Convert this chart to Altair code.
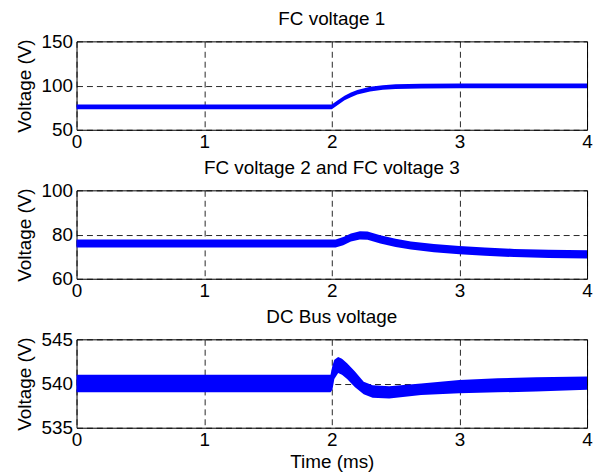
import altair as alt
import pandas as pd

# ---------------- data ----------------
# Panel 1: FC voltage 1 (band = lower / upper envelope of the ripple)
t1 = [0.0, 1.0, 2.0, 2.05, 2.1, 2.15, 2.2, 2.3, 2.4, 2.5, 2.7, 3.0, 3.5, 4.0]
lo1 = [73.3, 73.3, 73.3, 78.4, 83.4, 86.9, 89.9, 93.4, 95.2, 96.2, 96.8, 97.0, 97.0, 97.0]
hi1 = [78.5, 78.5, 78.5, 83.6, 88.6, 92.1, 95.1, 98.6, 100.4, 101.4, 102.0, 102.2, 102.2, 102.2]

# Panel 2: FC voltage 2 and FC voltage 3
t2 = [0.0, 1.0, 2.03, 2.09, 2.15, 2.22, 2.28, 2.38, 2.5, 2.62, 2.8, 3.0, 3.2, 3.43, 3.7, 4.0]
lo2 = [74.1, 74.1, 74.1, 75.2, 76.8, 77.8, 77.7, 76.0, 74.4, 73.2, 72.0, 71.1, 70.4, 69.8, 69.4, 69.2]
hi2 = [77.8, 77.8, 77.8, 78.9, 80.5, 81.5, 81.4, 79.7, 78.1, 76.9, 75.7, 74.8, 74.1, 73.5, 73.1, 72.9]

# Panel 3: DC Bus voltage
t3 = [0.0, 1.0, 1.99, 2.005, 2.02, 2.05, 2.08, 2.12, 2.18, 2.25, 2.32, 2.45, 2.7, 3.0, 3.3, 3.6, 4.0]
lo3 = [539.0, 539.0, 539.0, 539.3, 540.5, 541.2, 541.0, 540.5, 539.6, 538.8, 538.4, 538.3, 538.7, 538.9, 539.0, 539.1, 539.3]
hi3 = [541.0, 541.0, 541.0, 542.0, 542.7, 543.0, 542.8, 542.3, 541.4, 540.2, 539.8, 539.7, 540.0, 540.4, 540.6, 540.7, 540.8]

titles = ["FC voltage 1", "FC voltage 2 and FC voltage 3", "DC Bus voltage"]
y_domains = [[50, 150], [60, 100], [535, 545]]
y_ticks = [[50, 100, 150], [60, 80, 100], [535, 540, 545]]
x_ticks = [0, 1, 2, 3, 4]

FONT = "Liberation Sans"
FS = 19


def panel(t, lo, hi, title, ydom, yvals, xtitle):
    df = pd.DataFrame({"t": t, "lo": lo, "hi": hi})
    return (
        alt.Chart(df)
        .mark_area(color="#0000FF", opacity=1)
        .encode(
            x=alt.X(
                "t:Q",
                scale=alt.Scale(domain=[0, 4], nice=False),
                axis=alt.Axis(values=x_ticks, title=xtitle, format="d"),
            ),
            y=alt.Y(
                "lo:Q",
                scale=alt.Scale(domain=ydom, nice=False, zero=False),
                axis=alt.Axis(values=yvals, title="Voltage (V)", format="d"),
            ),
            y2="hi:Q",
        )
        .properties(
            width=514,
            height=89,
            title=alt.TitleParams(
                title, fontSize=FS, font=FONT, fontWeight="normal",
                anchor="middle", color="black", offset=3,
            ),
        )
    )


p1 = panel(t1, lo1, hi1, titles[0], y_domains[0], y_ticks[0], "")
p2 = panel(t2, lo2, hi2, titles[1], y_domains[1], y_ticks[1], "")
p3 = panel(t3, lo3, hi3, titles[2], y_domains[2], y_ticks[2], "Time (ms)")

chart = (
    alt.vconcat(p1, p2, p3, spacing=6)
    .properties(padding={"left": 6, "top": 0, "right": 0, "bottom": 0})
    .configure_view(stroke="black", strokeWidth=1)
    .configure_axis(
        labelFont=FONT,
        labelFontSize=FS,
        labelColor="black",
        labelFlush=False,
        labelOverlap=False,
        titleFont=FONT,
        titleFontSize=FS,
        titleFontWeight="normal",
        titleColor="black",
        ticks=False,
        domain=False,
        grid=True,
        gridColor="black",
        gridDash=[6, 4],
        gridWidth=1,
        gridOpacity=0.85,
    )
    .configure_axisX(labelPadding=3, titlePadding=3)
    .configure_axisY(labelPadding=4, titlePadding=7)
)

chart.save("out.html", embed_options={"renderer": "svg", "actions": False})
